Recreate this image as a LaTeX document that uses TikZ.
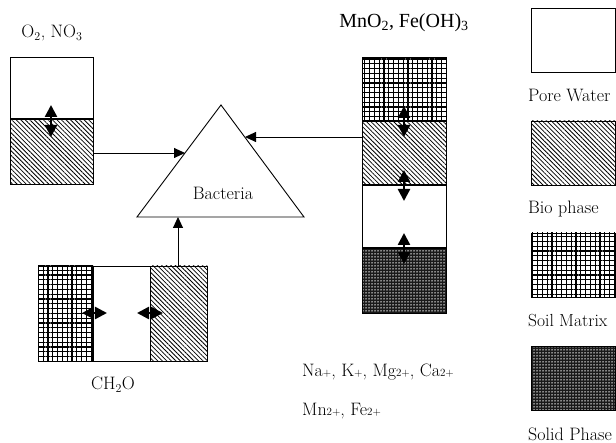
\documentclass[tikz,border=0pt]{standalone}
\usepackage{fontspec}
\newfontfamily\timesfont{Liberation Serif}
\usetikzlibrary{arrows.meta,patterns.meta}

\newcommand{\chg}[1]{{\fontsize{11}{11}\selectfont #1}}

\tikzset{
  phasebox/.style={draw=black, line width=0.9pt},
  porewater/.style={phasebox, fill=white},
  biophase/.style={phasebox, pattern={Lines[angle=-45,distance=3.2pt,line width=0.8pt]}},
  soilmatrix/.style={phasebox, pattern={Hatch[angle=0,distance=4.8pt,line width=1.1pt]}},
  solidphase/.style={phasebox, preaction={fill=black!90}, pattern={Dots[distance=3pt,radius=0.75pt]}, pattern color=white},
  divider/.style={line width=2pt},
  flow/.style={-{Triangle[length=11pt,width=10pt]}, line width=0.9pt},
  exchange/.style={{Triangle[length=12pt,width=12pt]}-{Triangle[length=12pt,width=12pt]}, line width=2.5pt},
  tag/.style={font=\fontsize{18}{21}\selectfont, inner sep=0pt},
}

\begin{document}
\begin{tikzpicture}[x=1pt,y=-1pt]
\useasboundingbox (0,0) rectangle (616,443);

% Draw the oxidant column
\node[tag] (oxlabel) at (52,33) {O$_2$, NO$_3$};
\draw[porewater] (10,57) rectangle (93,119);
\draw[biophase] (10,119) rectangle (93,184);
\draw[divider] (10,119) -- (93,119);
  \coordinate (oxup) at (51,105);
  \coordinate (oxdown) at (51,137);
  \coordinate (oxout) at (93,153);
\draw[exchange] (oxup) -- (oxdown);

% Draw the bacteria triangle
  \coordinate (apex) at (221,105);
  \coordinate (baseL) at (137,217);
  \coordinate (baseR) at (304,217);
\draw[line width=0.9pt] (apex) -- (baseR) -- (baseL) -- cycle;
\node[tag] (bacteria) at (223,193) {Bacteria};
  \coordinate (triW) at (185,153);
  \coordinate (triE) at (245,137);
  \coordinate (triS) at (178,217);

% Draw the metal oxide column
\node[tag, font=\timesfont\fontsize{20}{23}\selectfont] (mnlabel) at (404,23) {MnO\textsubscript{2}, Fe(OH)\textsubscript{3}};
\foreach \top/\bot/\sty in {57/121/soilmatrix, 121/185/biophase, 185/248/porewater, 248/313/solidphase} {
  \draw[\sty] (362,\top) rectangle (446,\bot);
}
\foreach \y in {121,185,248} {
  \draw[line width=1.3pt] (362,\y) -- (446,\y);
  \coordinate (mnup\y) at (404,\y-15);
  \coordinate (mndown\y) at (404,\y+16);
  \draw[exchange] (mnup\y) -- (mndown\y);
}
  \coordinate (mnout) at (362,137);

% Draw the organic matter box
\draw[soilmatrix] (38,266) rectangle (93,361);
\draw[porewater] (93,266) rectangle (150,361);
\draw[biophase] (150,266) rectangle (207,361);
\draw[divider] (93,266) -- (93,361);
  \coordinate (chtop) at (178,266);
  \coordinate (chL1) at (82,313);
  \coordinate (chR1) at (107,313);
  \coordinate (chL2) at (137,313);
  \coordinate (chR2) at (163,313);
\draw[exchange] (chL1) -- (chR1);
\draw[exchange] (chL2) -- (chR2);
\node[tag] (chlabel) at (113,385) {CH$_2$O};

% Draw the flows into the bacteria
\draw[flow] (oxout) -- (triW);
\draw[flow] (mnout) -- (triE);
\draw[flow] (chtop) -- (triS);

% Dissolved ions
\node[tag, anchor=west] (ions) at (302,372) {Na\chg{+}, K\chg{+}, Mg\chg{2+}, Ca\chg{2+}};
\node[tag, anchor=west] (metals) at (302,411) {Mn\chg{2+}, Fe\chg{2+}};

% Draw the legend
\foreach \top/\sty/\txt in {8/porewater/Pore Water, 121/biophase/Bio phase, 233/soilmatrix/{\fontsize{17.5}{20}\selectfont Soil Matrix}, 346/solidphase/Solid Phase} {
  \draw[\sty] (531,\top) rectangle (615,\top+64);
  \node[tag, anchor=west] at (528,\top+88) {\txt};
}
\end{tikzpicture}
\end{document}
